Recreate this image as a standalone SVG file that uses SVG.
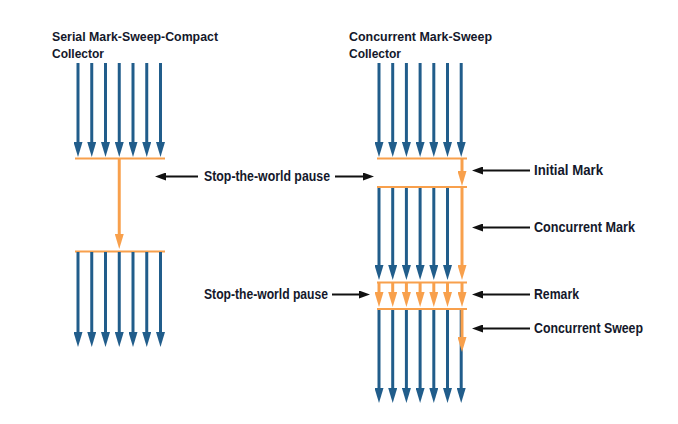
<svg xmlns="http://www.w3.org/2000/svg" width="678" height="424" viewBox="0 0 678 424">
<style>
.txt{font-family:"Liberation Sans",Arial,sans-serif;font-weight:bold;fill:#14182b;}
.title{font-size:13.5px;}
.lbl{font-size:14.5px;}
.blue{stroke:#215d8b;stroke-width:3;fill:none;marker-end:url(#hb);}
.or{stroke:#f8a04c;stroke-width:3;fill:none;marker-end:url(#ho);}
.orl{stroke:#f8a04c;stroke-width:2;fill:none;}
.blk{stroke:#111;stroke-width:2;fill:none;marker-end:url(#hk);}
</style>
<defs>
<marker id="hb" markerUnits="userSpaceOnUse" orient="auto" markerWidth="15" markerHeight="9" refX="7" refY="4.5" viewBox="0 0 15 9"><path d="M0,0 L15,4.5 L0,9 Z" fill="#215d8b"/></marker>
<marker id="ho" markerUnits="userSpaceOnUse" orient="auto" markerWidth="15" markerHeight="9" refX="7" refY="4.5" viewBox="0 0 15 9"><path d="M0,0 L15,4.5 L0,9 Z" fill="#f8a04c"/></marker>
<marker id="hk" markerUnits="userSpaceOnUse" orient="auto" markerWidth="11" markerHeight="8" refX="5" refY="4" viewBox="0 0 11 8"><path d="M0,0 L11,4 L0,8 Z" fill="#111"/></marker>
</defs>

<g id="serial-title">
<text class="txt title" x="52" y="41" textLength="166" lengthAdjust="spacingAndGlyphs">Serial Mark-Sweep-Compact</text>
<text class="txt title" x="52" y="58" textLength="52" lengthAdjust="spacingAndGlyphs">Collector</text>
</g>
<g id="cms-title">
<text class="txt title" x="349" y="41" textLength="143" lengthAdjust="spacingAndGlyphs">Concurrent Mark-Sweep</text>
<text class="txt title" x="349" y="58" textLength="52" lengthAdjust="spacingAndGlyphs">Collector</text>
</g>

<g id="serial-threads-top">
<line class="blue" x1="78" y1="63" x2="78" y2="149"/>
<line class="blue" x1="91.75" y1="63" x2="91.75" y2="149"/>
<line class="blue" x1="105.5" y1="63" x2="105.5" y2="149"/>
<line class="blue" x1="119.25" y1="63" x2="119.25" y2="149"/>
<line class="blue" x1="133" y1="63" x2="133" y2="149"/>
<line class="blue" x1="146.75" y1="63" x2="146.75" y2="149"/>
<line class="blue" x1="160.5" y1="63" x2="160.5" y2="149"/>
</g>
<g id="serial-pause">
<line class="orl" x1="75" y1="158.5" x2="165" y2="158.5"/>
<line class="or" x1="119.25" y1="159" x2="119.25" y2="241"/>
<line class="orl" x1="75" y1="251.5" x2="165" y2="251.5"/>
</g>
<g id="serial-threads-bottom">
<line class="blue" x1="78" y1="252" x2="78" y2="339"/>
<line class="blue" x1="91.75" y1="252" x2="91.75" y2="339"/>
<line class="blue" x1="105.5" y1="252" x2="105.5" y2="339"/>
<line class="blue" x1="119.25" y1="252" x2="119.25" y2="339"/>
<line class="blue" x1="133" y1="252" x2="133" y2="339"/>
<line class="blue" x1="146.75" y1="252" x2="146.75" y2="339"/>
<line class="blue" x1="160.5" y1="252" x2="160.5" y2="339"/>
</g>

<g id="cms-threads-top">
<line class="blue" x1="379" y1="63" x2="379" y2="149"/>
<line class="blue" x1="392.7" y1="63" x2="392.7" y2="149"/>
<line class="blue" x1="406.4" y1="63" x2="406.4" y2="149"/>
<line class="blue" x1="420.1" y1="63" x2="420.1" y2="149"/>
<line class="blue" x1="433.8" y1="63" x2="433.8" y2="149"/>
<line class="blue" x1="447.5" y1="63" x2="447.5" y2="149"/>
<line class="blue" x1="461.2" y1="63" x2="461.2" y2="149"/>
</g>
<g id="cms-initial-mark">
<line class="orl" x1="377" y1="158.5" x2="467" y2="158.5"/>
<line class="or" x1="462" y1="159" x2="462" y2="178"/>
<line class="orl" x1="377" y1="187" x2="467" y2="187"/>
</g>
<g id="cms-concurrent-mark">
<line class="blue" x1="379" y1="188" x2="379" y2="272"/>
<line class="blue" x1="392.7" y1="188" x2="392.7" y2="272"/>
<line class="blue" x1="406.4" y1="188" x2="406.4" y2="272"/>
<line class="blue" x1="420.1" y1="188" x2="420.1" y2="272"/>
<line class="blue" x1="433.8" y1="188" x2="433.8" y2="272"/>
<line class="blue" x1="447.5" y1="188" x2="447.5" y2="272"/>
<line class="or" x1="462" y1="188" x2="462" y2="272"/>
</g>
<g id="cms-remark">
<line class="orl" x1="377" y1="282.5" x2="467" y2="282.5"/>
<line class="or" x1="379" y1="283" x2="379" y2="299"/>
<line class="or" x1="392.7" y1="283" x2="392.7" y2="299"/>
<line class="or" x1="406.4" y1="283" x2="406.4" y2="299"/>
<line class="or" x1="420.1" y1="283" x2="420.1" y2="299"/>
<line class="or" x1="433.8" y1="283" x2="433.8" y2="299"/>
<line class="or" x1="447.5" y1="283" x2="447.5" y2="299"/>
<line class="or" x1="462" y1="283" x2="462" y2="299"/>
<line class="orl" x1="377" y1="309" x2="467" y2="309"/>
</g>
<g id="cms-concurrent-sweep">
<line class="blue" x1="379" y1="310" x2="379" y2="395"/>
<line class="blue" x1="392.7" y1="310" x2="392.7" y2="395"/>
<line class="blue" x1="406.4" y1="310" x2="406.4" y2="395"/>
<line class="blue" x1="420.1" y1="310" x2="420.1" y2="395"/>
<line class="blue" x1="433.8" y1="310" x2="433.8" y2="395"/>
<line class="blue" x1="447.5" y1="310" x2="447.5" y2="395"/>
<line class="blue" x1="461.2" y1="310" x2="461.2" y2="395"/>
<line class="or" x1="462" y1="310" x2="462" y2="344"/>
</g>

<g id="label-stw1">
<text class="txt lbl" x="204" y="181" textLength="126" lengthAdjust="spacingAndGlyphs">Stop-the-world pause</text>
</g>
<g id="label-stw2">
<text class="txt lbl" x="204" y="299" textLength="124" lengthAdjust="spacingAndGlyphs">Stop-the-world pause</text>
</g>
<g id="label-initial-mark">
<text class="txt lbl" x="534" y="175" textLength="69" lengthAdjust="spacingAndGlyphs">Initial Mark</text>
</g>
<g id="label-concurrent-mark">
<text class="txt lbl" x="534" y="232" textLength="101" lengthAdjust="spacingAndGlyphs">Concurrent Mark</text>
</g>
<g id="label-remark">
<text class="txt lbl" x="534" y="299" textLength="45" lengthAdjust="spacingAndGlyphs">Remark</text>
</g>
<g id="label-concurrent-sweep">
<text class="txt lbl" x="534" y="333" textLength="109" lengthAdjust="spacingAndGlyphs">Concurrent Sweep</text>
</g>

<g id="connectors">
<line class="blk" x1="198" y1="176.5" x2="161" y2="176.5"/>
<line class="blk" x1="335" y1="176.5" x2="368" y2="176.5"/>
<line class="blk" x1="332" y1="294.5" x2="364" y2="294.5"/>
<line class="blk" x1="530" y1="170.5" x2="478" y2="170.5"/>
<line class="blk" x1="530" y1="227.5" x2="478" y2="227.5"/>
<line class="blk" x1="530" y1="294.5" x2="478" y2="294.5"/>
<line class="blk" x1="530" y1="328.5" x2="478" y2="328.5"/>
</g>
</svg>
